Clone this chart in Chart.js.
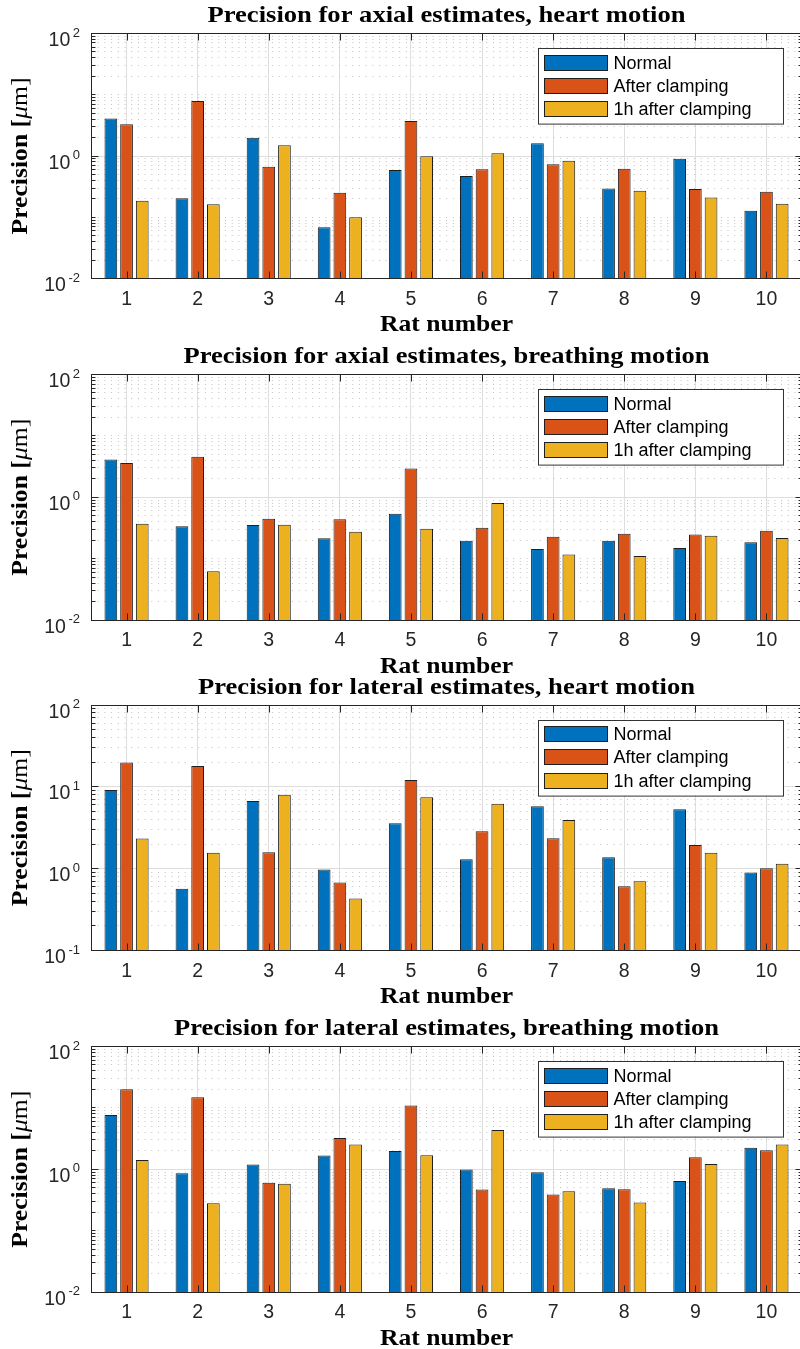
<!DOCTYPE html>
<html>
<head>
<meta charset="utf-8">
<script src="https://cdn.jsdelivr.net/npm/chart.js@4.4.1/dist/chart.umd.min.js"></script>
<style>
    html, body { margin: 0; padding: 0; background: #fff; }
    #fig { position: relative; width: 800px; height: 1349px; overflow: hidden; background: #fff; }
    #fig canvas { position: absolute; left: 0; }
</style>
</head>
<body>
<div id="fig"></div>
<script>
// start: Data
const rats = ['1', '2', '3', '4', '5', '6', '7', '8', '9', '10'];
const seriesNames = ['Normal', 'After clamping', '1h after clamping'];

const axialHeartNormal = [4.1, 0.204, 1.99, 0.0686, 0.59, 0.47, 1.61, 0.296, 0.90, 0.128];
const axialHeartClamp  = [3.3, 7.9, 0.668, 0.252, 3.73, 0.61, 0.73, 0.62, 0.29, 0.26];
const axialHeart1h     = [0.186, 0.163, 1.50, 0.0998, 0.99, 1.11, 0.84, 0.27, 0.21, 0.166];

const axialBreathNormal = [4.14, 0.336, 0.352, 0.214, 0.54, 0.196, 0.143, 0.196, 0.149, 0.184];
const axialBreathClamp  = [3.6, 4.57, 0.447, 0.44, 2.95, 0.319, 0.228, 0.255, 0.248, 0.285];
const axialBreath1h     = [0.37, 0.062, 0.357, 0.275, 0.307, 0.805, 0.117, 0.110, 0.236, 0.217];

const lateralHeartNormal = [9.16, 0.57, 6.72, 0.98, 3.59, 1.30, 5.78, 1.38, 5.32, 0.896];
const lateralHeartClamp  = [19.9, 18.0, 1.59, 0.676, 12.1, 2.86, 2.35, 0.61, 1.95, 1.01];
const lateralHeart1h     = [2.33, 1.56, 8.03, 0.431, 7.45, 6.23, 3.94, 0.70, 1.57, 1.15];

const lateralBreathNormal = [7.69, 0.86, 1.19, 1.67, 1.99, 0.99, 0.89, 0.49, 0.645, 2.25];
const lateralBreathClamp  = [20.1, 14.9, 0.60, 3.24, 10.9, 0.466, 0.386, 0.472, 1.57, 2.04];
const lateralBreath1h     = [1.42, 0.279, 0.58, 2.52, 1.69, 4.38, 0.438, 0.286, 1.22, 2.52];

// decade exponents: range and labelled ticks
const yRangeWide = [-2, 2];
const yRangeNarrow = [-1, 2];
const yLabelsWide = [-2, 0, 2];
const yLabelsNarrow = [-1, 0, 1, 2];
// end: Data



// start: Style
const COLORS = ['#0072BD', '#D95319', '#EDB120'];
const EDGE = '#1f1f1f';
const AXIS = '#262626';
const GRID_MAJOR = '#dedede';
const GRID_MINOR = '#c2c2c2';
const TICK_FONT = '"Liberation Sans", Arial, sans-serif';
const SERIF = '"Liberation Serif", "Times New Roman", serif';

const panels = [
    { title: 'Precision for axial estimates, heart motion', titleW: 478,
      data: [axialHeartNormal, axialHeartClamp, axialHeart1h],
      range: yRangeWide, labels: yLabelsWide, top: 33.5, bottom: 278.5 },
    { title: 'Precision for axial estimates, breathing motion', titleW: 526,
      data: [axialBreathNormal, axialBreathClamp, axialBreath1h],
      range: yRangeWide, labels: yLabelsWide, top: 374.5, bottom: 620 },
    { title: 'Precision for lateral estimates, heart motion', titleW: 497,
      data: [lateralHeartNormal, lateralHeartClamp, lateralHeart1h],
      range: yRangeNarrow, labels: yLabelsNarrow, top: 705, bottom: 950.5 },
    { title: 'Precision for lateral estimates, breathing motion', titleW: 545,
      data: [lateralBreathNormal, lateralBreathClamp, lateralBreath1h],
      range: yRangeWide, labels: yLabelsWide, top: 1046.5, bottom: 1292 },
];
// end: Style



// start: Helpers
function buildLogTicks(range, labelled) {
    const ticks = [];
    for (let e = range[0]; e <= range[1]; e++) {
        ticks.push({ value: Math.pow(10, e), lvl: labelled.includes(e) ? 'major' : 'minor', exp: e });
        if (e < range[1]) {
            for (let m = 2; m <= 9; m++) {
                ticks.push({ value: m * Math.pow(10, e), lvl: 'minor' });
            }
        }
    }
    return ticks;
}

function drawFitted(ctx, parts, cx, cy, width, rotate) {
    ctx.save();
    let total = 0;
    parts.forEach(p => {
        ctx.font = p.font;
        p.w = ctx.measureText(p.text).width;
        total += p.w;
    });
    ctx.translate(cx, cy);
    if (rotate) ctx.rotate(-Math.PI / 2);
    ctx.scale(width / total, 1);
    ctx.textAlign = 'left';
    ctx.textBaseline = 'alphabetic';
    ctx.fillStyle = '#000';
    let x = -total / 2;
    parts.forEach(p => {
        ctx.font = p.font;
        ctx.fillText(p.text, x, 0);
        x += p.w;
    });
    ctx.restore();
}
// end: Helpers



// start: Matlab look plugin
const matlabLook = {
    id: 'matlabLook',
    afterDraw(chart, args, opts) {
        const ctx = chart.ctx;
        const a = chart.chartArea;
        const xs = chart.scales.x;
        const ys = chart.scales.y;
        const L = Math.round(a.left) + 0.5, R = Math.round(a.right) + 0.5;
        const T = Math.round(a.top - 0.5) + 0.5, B = Math.round(a.bottom - 0.5) + 0.5;
        ctx.save();

        // inward tick marks
        ctx.strokeStyle = AXIS;
        ctx.lineWidth = 1;
        ctx.beginPath();
        xs.ticks.forEach((t, i) => {
            const px = Math.round(xs.getPixelForTick(i)) + 0.5;
            ctx.moveTo(px, B); ctx.lineTo(px, B - 7);
            ctx.moveTo(px, T); ctx.lineTo(px, T + 7);
        });
        ys.ticks.forEach(t => {
            const py = Math.round(ys.getPixelForValue(t.value) - 0.5) + 0.5;
            const len = t.lvl === 'major' ? 7 : 4;
            ctx.moveTo(L, py); ctx.lineTo(L + len, py);
            ctx.moveTo(R, py); ctx.lineTo(R - len, py);
        });
        ctx.stroke();

        // box
        ctx.strokeRect(L, T, R - L, B - T);

        // y tick labels 10^n
        ctx.fillStyle = '#262626';
        ctx.textBaseline = 'alphabetic';
        ctx.textAlign = 'left';
        ys.ticks.forEach(t => {
            if (t.lvl !== 'major') return;
            const py = ys.getPixelForValue(t.value);
            ctx.font = '19.5px ' + TICK_FONT;
            const wb = ctx.measureText('10').width;
            ctx.font = '13px ' + TICK_FONT;
            const ex = String(t.exp);
            const we = ctx.measureText(ex).width;
            const x0 = 80 - (wb + 2.5 + we);
            ctx.font = '19.5px ' + TICK_FONT;
            ctx.fillText('10', x0, py + 12.5);
            ctx.font = '13px ' + TICK_FONT;
            ctx.fillText(ex, x0 + wb + 2.5, py + 3);
        });

        // x tick labels
        ctx.font = '19.5px ' + TICK_FONT;
        ctx.textAlign = 'center';
        xs.ticks.forEach((t, i) => {
            ctx.fillText(chart.data.labels[i], xs.getPixelForTick(i), a.bottom + 26);
        });

        // title, axis labels
        const cx = (a.left + a.right) / 2;
        drawFitted(ctx, [{ text: opts.title, font: 'bold 23px ' + SERIF }], cx, a.top - 11.5, opts.titleW, false);
        drawFitted(ctx, [{ text: 'Rat number', font: 'bold 23px ' + SERIF }], cx, a.bottom + 52.5, 133, false);
        drawFitted(ctx, [
            { text: 'Precision [', font: 'bold 23px ' + SERIF },
            { text: 'μ', font: 'italic 23px ' + SERIF },
            { text: 'm]', font: '23px ' + SERIF },
        ], 26.7, (a.top + a.bottom) / 2, 157, true);

        // legend
        const bx = a.right - 264.3, by = a.top + 14.5;
        ctx.fillStyle = '#fff';
        ctx.fillRect(bx, by, 245, 75.6);
        ctx.strokeStyle = '#333';
        ctx.strokeRect(Math.round(bx) + 0.5, Math.round(by) + 0.5, 245, 75.6);
        ctx.font = '18px ' + TICK_FONT;
        ctx.textAlign = 'left';
        ctx.textBaseline = 'middle';
        chart.data.datasets.forEach((ds, i) => {
            const sy = Math.round(by + 6.6 + i * 23.3);
            const sx = Math.round(bx + 6.3);
            ctx.fillStyle = ds.backgroundColor;
            ctx.fillRect(sx, sy, 64, 16);
            ctx.strokeStyle = EDGE;
            ctx.strokeRect(sx + 0.5, sy + 0.5, 63, 15);
            ctx.fillStyle = '#000';
            ctx.fillText(ds.label, sx + 69.5, sy + 9);
        });
        ctx.restore();
    }
};
// end: Matlab look plugin



// start: Charts
const fig = document.getElementById('fig');
const CANVAS_W = 806;
const PLOT_LEFT = 91;
const PLOT_RIGHT = 802;

panels.forEach(p => {
    const canvasTop = Math.floor(p.top) - 34;
    const padTop = p.top - canvasTop;
    const canvasH = Math.ceil(p.bottom - canvasTop + 60);
    const xHeight = canvasH - (p.bottom - canvasTop);

    const canvas = document.createElement('canvas');
    canvas.width = CANVAS_W;
    canvas.height = canvasH;
    canvas.style.width = CANVAS_W + 'px';
    canvas.style.height = canvasH + 'px';
    canvas.style.top = canvasTop + 'px';
    fig.appendChild(canvas);

    new Chart(canvas, {
        type: 'bar',
        data: {
            labels: rats,
            datasets: seriesNames.map((name, i) => ({
                label: name,
                data: p.data[i],
                backgroundColor: COLORS[i],
                borderColor: EDGE,
                borderWidth: 1,
                borderSkipped: 'start',
                categoryPercentage: 0.6625,
                barPercentage: 0.81
            }))
        },
        options: {
            responsive: false,
            animation: false,
            devicePixelRatio: 1,
            layout: { padding: { top: padTop, left: 0, right: CANVAS_W - PLOT_RIGHT, bottom: 0 } },
            plugins: {
                legend: { display: false },
                tooltip: { enabled: false },
                title: { display: false },
                matlabLook: { title: p.title, titleW: p.titleW }
            },
            scales: {
                x: {
                    grid: { offset: false, color: GRID_MAJOR, drawTicks: false },
                    border: { display: false },
                    ticks: { display: false },
                    afterFit: s => { s.height = xHeight; }
                },
                y: {
                    type: 'logarithmic',
                    min: Math.pow(10, p.range[0]),
                    max: Math.pow(10, p.range[1]),
                    ticks: { display: false, autoSkip: false },
                    afterBuildTicks: s => { s.ticks = buildLogTicks(p.range, p.labels); },
                    grid: {
                        drawTicks: false,
                        color: c => (c.tick && c.tick.lvl === 'major') ? GRID_MAJOR : GRID_MINOR
                    },
                    border: {
                        display: false,
                        dash: c => (c.tick && c.tick.lvl !== 'major') ? [1, 5.7] : []
                    },
                    afterFit: s => { s.width = PLOT_LEFT; }
                }
            }
        },
        plugins: [matlabLook]
    });
});
// end: Charts
</script>
</body>
</html>
